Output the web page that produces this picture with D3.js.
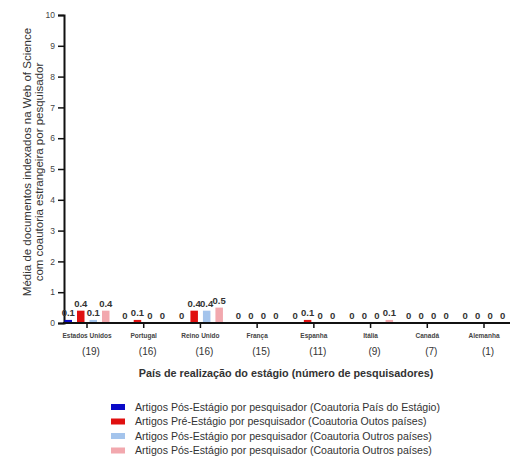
<!DOCTYPE html>
<html>
<head>
<meta charset="utf-8">
<script src="https://d3js.org/d3.v7.min.js"></script>
<style>
  body { margin: 0; background: #fff; }
  text { font-family: "Liberation Sans", Arial, sans-serif; }
</style>
</head>
<body>
<div id="chart"></div>
<script>
  // data
  var countries = ["Estados Unidos", "Portugal", "Reino Unido", "França", "Espanha", "Itália", "Canadá", "Alemanha"];
  var researchers = [19, 16, 16, 15, 11, 9, 7, 1];
  var seriesNames = [
    "Artigos Pós-Estágio por pesquisador (Coautoria País do Estágio)",
    "Artigos Pré-Estágio por pesquisador (Coautoria Outos países)",
    "Artigos Pós-Estágio por pesquisador (Coautoria Outros países)",
    "Artigos Pós-Estágio por pesquisador (Coautoria Outros países)"
  ];
  var posPais   = [0.1, 0, 0, 0, 0, 0, 0, 0];
  var preOutros = [0.4, 0.1, 0.4, 0, 0.1, 0, 0, 0];
  var posOutros = [0.1, 0, 0.4, 0, 0, 0, 0, 0];
  var posOutros2 = [0.4, 0, 0.5, 0, 0, 0.1, 0, 0];
  var yTicks = [0, 1, 2, 3, 4, 5, 6, 7, 8, 9, 10];
  var colors = ["#0a0ac8", "#e01010", "#a4c4ec", "#f2a8ae"];

  var series = [posPais, preOutros, posOutros, posOutros2];

  var svg = d3.select("#chart")
    .append("svg")
      .attr("width", 513)
      .attr("height", 466);

  // scales
  var x = d3.scalePoint()
    .domain(countries)
    .range([87, 484]);

  var xInner = d3.scaleBand()
    .domain(d3.range(4))
    .range([-25, 25])
    .paddingInner(0.4)
    .paddingOuter(0.2);

  var y = d3.scaleLinear()
    .domain([0, 10])
    .range([323, 15]);

  // y axis
  var yAxis = svg.append("g")
    .attr("transform", "translate(64,0)")
    .call(d3.axisLeft(y).tickValues(yTicks).tickSize(6).tickPadding(3));
  yAxis.select(".domain").attr("stroke", "#111").attr("stroke-width", 2);
  yAxis.selectAll(".tick line").attr("stroke", "#111").attr("stroke-width", 1.5);
  yAxis.selectAll(".tick text").attr("font-size", 8.5).attr("fill", "#444")
    .style("font-family", "Liberation Sans, Arial, sans-serif");

  // bars
  var groups = svg.append("g")
    .selectAll("g")
    .data(countries)
    .enter()
    .append("g")
      .attr("transform", function(d) { return "translate(" + x(d) + ",0)"; });

  groups.each(function(c, ci) {
    var g = d3.select(this);
    series.forEach(function(s, si) {
      var v = s[ci];
      g.append("rect")
        .attr("x", xInner(si))
        .attr("width", xInner.bandwidth())
        .attr("y", y(v))
        .attr("height", y(0) - y(v))
        .attr("fill", colors[si]);
      g.append("text")
        .attr("x", xInner(si) + xInner.bandwidth() / 2)
        .attr("y", y(v) - 4)
        .attr("text-anchor", "middle")
        .attr("font-size", 9.5)
        .attr("font-weight", "bold")
        .attr("fill", "#333")
        .text(v);
    });
  });

  // x axis
  var xAxis = svg.append("g")
    .attr("transform", "translate(0," + y(0) + ")");
  xAxis.append("line")
    .attr("x1", 63).attr("x2", 510)
    .attr("stroke", "#111").attr("stroke-width", 2);
  xAxis.selectAll(".tk")
    .data(countries)
    .enter()
    .append("line")
      .attr("x1", function(d) { return x(d); })
      .attr("x2", function(d) { return x(d); })
      .attr("y1", 0).attr("y2", 5)
      .attr("stroke", "#111").attr("stroke-width", 1.5);

  xAxis.selectAll(".lbl")
    .data(countries)
    .enter()
    .append("text")
      .attr("x", function(d) { return x(d); })
      .attr("y", 15)
      .attr("text-anchor", "middle")
      .attr("font-size", 6.5)
      .attr("font-weight", "bold")
      .attr("fill", "#444")
      .text(function(d) { return d; });

  xAxis.selectAll(".cnt")
    .data(countries)
    .enter()
    .append("text")
      .attr("x", function(d) { return x(d) + 4; })
      .attr("y", 32)
      .attr("text-anchor", "middle")
      .attr("font-size", 10)
      .attr("fill", "#333")
      .text(function(d, i) { return "(" + researchers[i] + ")"; });

  svg.append("text")
    .attr("x", 286)
    .attr("y", 377)
    .attr("text-anchor", "middle")
    .attr("font-size", 10.8)
    .attr("font-weight", "bold")
    .attr("fill", "#333")
    .text("País de realização do estágio (número de pesquisadores)");

  // y label
  var yl = svg.append("text")
    .attr("transform", "translate(31,162) rotate(-90)")
    .attr("text-anchor", "middle")
    .attr("font-size", 11.5)
    .attr("fill", "#333");
  yl.append("tspan").attr("x", 0).attr("y", 0)
    .text("Média de documentos indexados na Web of Science");
  yl.append("tspan").attr("x", -10).attr("y", 12)
    .text("com coautoria estrangeira por pesquisador");

  // legend
  var legend = svg.append("g")
    .selectAll("g")
    .data(seriesNames)
    .enter()
    .append("g")
      .attr("transform", function(d, i) { return "translate(111," + (407 + i * 14.5) + ")"; });
  legend.append("rect")
    .attr("x", 0).attr("y", -3)
    .attr("width", 14).attr("height", 6)
    .attr("fill", function(d, i) { return colors[i]; });
  legend.append("text")
    .attr("x", 24)
    .attr("y", 3.8)
    .attr("font-size", 10.6)
    .attr("fill", "#333")
    .text(function(d) { return d; });
</script>
</body>
</html>
